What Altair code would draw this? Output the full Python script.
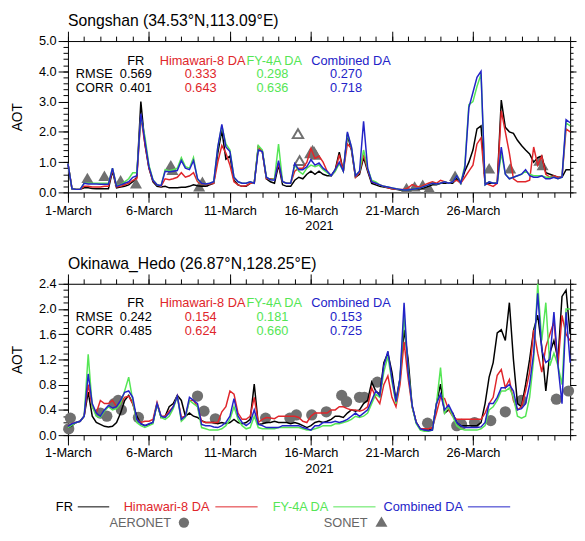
import json
import altair as alt
import pandas as pd

FONT = "Liberation Sans"
SERIES = ["FR", "Himawari-8 DA", "FY-4A DA", "Combined DA"]
COLORS = ["#000000", "#e0262b", "#55e655", "#2323c8"]
GRAY = "#707070"
STEP_DAYS = 0.25  # 6-hourly samples starting 1 March 00:00

TICK_DAYS = [0, 5, 10, 15, 20, 25]
TICK_LABELS = ["1-March", "6-March", "11-March", "16-March", "21-March", "26-March"]

# ---------------- Songshan ----------------
SONG_FR = [
    0.95, 0.12, 0.10, 0.10,  0.15, 0.15, 0.13, 0.12,  0.12, 0.12, 0.12, 0.70,
    0.15, 0.18, 0.20, 0.25,  0.35, 0.50, 3.00, 1.60,  0.80, 0.35, 0.20, 0.18,
    0.20, 0.15, 0.15, 0.15,  0.17, 0.17, 0.20, 0.25,  0.22, 0.20, 0.20, 0.25,
    0.30, 1.30, 2.05, 1.10,  1.20, 0.40, 0.25, 0.20,  0.20, 0.30, 0.30, 1.50,
    1.35, 0.45, 0.35, 0.30,  0.90, 0.25, 0.20, 0.20,  0.40, 0.50, 0.45, 0.60,
    0.70, 0.60, 0.70, 0.60,  0.55, 0.55, 0.75, 1.33,  0.70, 1.90, 1.40, 0.50,
    0.60, 1.15, 0.70, 0.30,  0.25, 0.20, 0.18, 0.15,  0.12, 0.10, 0.08, 0.08,
    0.08, 0.10, 0.12, 0.12,  0.15, 0.20, 0.25, 0.25,  0.30, 0.30, 0.30, 0.30,
    0.45, 0.30, 0.70, 1.00,  1.40, 2.10, 2.20, 0.30,  0.30, 0.30, 0.30, 3.05,
    2.15, 2.00, 1.95, 1.72,  1.55, 1.40, 1.27, 1.00,  1.15, 1.20, 0.65, 0.60,
    0.55, 0.50, 0.50, 0.75,  0.75,
]
SONG_H8 = [
    0.95, 0.12, 0.10, 0.10,  0.20, 0.20, 0.18, 0.18,  0.18, 0.20, 0.20, 0.75,
    0.18, 0.20, 0.25, 0.30,  0.40, 0.45, 2.50, 1.60,  0.80, 0.38, 0.25, 0.20,
    0.45, 0.42, 0.45, 0.50,  0.65, 0.50, 0.55, 0.65,  0.35, 0.28, 0.25, 0.28,
    0.30, 1.00, 1.55, 1.30,  0.90, 0.35, 0.25, 0.20,  0.22, 0.30, 0.30, 1.50,
    1.35, 0.45, 0.45, 0.45,  0.97, 0.35, 0.30, 0.30,  0.70, 0.80, 0.80, 1.00,
    1.45, 1.12, 1.20, 1.00,  0.70, 0.55, 0.70, 1.25,  0.70, 1.60, 1.45, 0.50,
    0.65, 1.25, 0.75, 0.35,  0.30, 0.25, 0.20, 0.15,  0.12, 0.10, 0.10, 0.10,
    0.15, 0.26, 0.20, 0.18,  0.25, 0.30, 0.35, 0.30,  0.40, 0.35, 0.30, 0.35,
    0.40, 0.30, 0.50, 0.70,  0.90, 1.60, 1.80, 0.30,  0.25, 0.20, 0.30, 2.70,
    2.00, 1.30, 0.45, 0.35,  0.35, 0.35, 0.40, 1.50,  0.90, 1.20, 0.60, 0.50,
    0.55, 0.50, 0.50, 2.10,  2.00,
]
SONG_FY = [
    0.95, 0.12, 0.10, 0.10,  0.30, 0.30, 0.30, 0.30,  0.30, 0.30, 0.30, 0.80,
    0.22, 0.25, 0.35, 0.45,  0.65, 0.65, 2.50, 1.85,  0.90, 0.42, 0.25, 0.22,
    0.75, 0.72, 0.75, 0.80,  1.15, 0.85, 0.80, 1.15,  0.42, 0.30, 0.28, 0.30,
    0.35, 1.50, 2.20, 1.60,  1.40, 0.50, 0.35, 0.30,  0.30, 0.35, 0.30, 1.55,
    1.40, 0.50, 0.42, 0.45,  1.60, 0.35, 0.30, 0.30,  0.90, 0.70, 0.60, 0.80,
    0.90, 0.85, 0.90, 0.75,  0.65, 0.55, 0.70, 0.95,  0.70, 1.95, 1.50, 0.55,
    0.70, 1.40, 0.80, 0.40,  0.35, 0.25, 0.20, 0.18,  0.15, 0.12, 0.10, 0.08,
    0.08, 0.10, 0.12, 0.15,  0.20, 0.25, 0.30, 0.28,  0.30, 0.35, 0.30, 0.35,
    0.55, 0.30, 0.90, 2.90,  3.00, 3.50, 3.90, 0.25,  0.35, 0.30, 0.30, 1.30,
    0.60, 0.45, 0.50, 0.55,  0.60, 0.70, 0.60, 0.55,  0.55, 0.55, 0.50, 0.50,
    0.50, 0.45, 0.50, 2.30,  2.20,
]
SONG_CB = [
    0.95, 0.12, 0.10, 0.10,  0.30, 0.28, 0.28, 0.28,  0.27, 0.27, 0.27, 0.80,
    0.20, 0.25, 0.30, 0.35,  0.50, 0.55, 2.60, 1.70,  0.85, 0.40, 0.25, 0.22,
    0.70, 0.68, 0.70, 0.72,  1.05, 0.80, 0.75, 1.05,  0.45, 0.30, 0.28, 0.30,
    0.35, 1.50, 2.25, 1.50,  1.35, 0.50, 0.35, 0.30,  0.30, 0.35, 0.30, 1.40,
    1.35, 0.50, 0.42, 0.40,  1.05, 0.35, 0.30, 0.30,  0.95, 0.75, 0.75, 0.85,
    1.08, 0.90, 0.97, 0.80,  0.70, 0.55, 0.75, 1.00,  0.70, 2.00, 1.50, 0.55,
    0.70, 2.35, 0.80, 0.35,  0.30, 0.25, 0.20, 0.18,  0.15, 0.12, 0.10, 0.08,
    0.08, 0.10, 0.12, 0.15,  0.20, 0.25, 0.30, 0.28,  0.30, 0.35, 0.30, 0.35,
    0.55, 0.30, 0.80, 2.80,  3.30, 3.80, 4.00, 0.25,  0.35, 0.30, 0.30, 1.50,
    0.60, 0.45, 0.50, 0.55,  0.60, 0.75, 0.55, 0.50,  0.50, 0.55, 0.45, 0.45,
    0.50, 0.45, 0.50, 2.40,  2.30,
]
SONET_T = [1.2, 2.25, 3.25, 4.2, 6.35, 6.45, 8.1, 8.3, 14.95, 15.1, 15.2, 15.3,
           20.9, 21.4, 21.9, 22.3, 23.9, 26.0, 27.3, 29.1, 29.3]
SONET_V = [0.48, 0.55, 0.40, 0.30, 0.90, 0.75, 0.20, 0.35, 1.30, 1.40, 1.35, 1.25,
           0.15, 0.20, 0.25, 0.15, 0.55, 0.80, 0.80, 1.05, 0.90]
SONET_OPEN_T = [14.2, 14.3]
SONET_OPEN_V = [1.94, 1.05]
SONG_RMSE = [0.569, 0.333, 0.298, 0.270]
SONG_CORR = [0.401, 0.643, 0.636, 0.718]

# ---------------- Okinawa_Hedo ----------------
OKI_FR = [
    0.12, 0.15, 0.20, 0.22,  0.30, 0.68, 0.30, 0.20,  0.17, 0.14, 0.13, 0.14,
    0.20, 0.35, 0.55, 0.63,  0.50, 0.30, 0.18, 0.15,  0.17, 0.20, 0.50, 0.28,
    0.30, 0.45, 0.50, 0.63,  0.55, 0.30, 0.35, 0.30,  0.28, 0.23, 0.20, 0.20,
    0.20, 0.18, 0.20, 0.18,  0.20, 0.25, 0.20, 0.18,  0.20, 0.25, 0.81, 0.17,
    0.18, 0.20, 0.20, 0.22,  0.20, 0.20, 0.20, 0.18,  0.20, 0.18, 0.15, 0.12,
    0.15, 0.20, 0.22, 0.20,  0.22, 0.25, 0.30, 0.30,  0.28, 0.35, 0.40, 0.38,
    0.40, 0.50, 0.55, 0.84,  0.70, 0.65, 1.15, 1.30,  1.00, 0.55, 0.90, 1.67,
    1.20, 0.45, 0.20, 0.10,  0.08, 0.08, 0.10, 0.50,  0.81, 0.35, 0.40, 0.35,
    0.20, 0.15, 0.15, 0.15,  0.15, 0.15, 0.20, 0.50,  0.92, 1.15, 1.62, 1.67,
    1.50, 2.10, 1.20, 0.50,  0.45, 0.80, 1.20, 1.67,  1.90, 1.40, 0.70, 1.30,
    1.50, 1.20, 2.20, 2.30,  1.60,
]
OKI_H8 = [
    0.14, 0.18, 0.20, 0.22,  0.30, 0.80, 0.45, 0.35,  0.55, 0.50, 0.50, 0.55,
    0.45, 0.50, 0.60, 0.62,  0.50, 0.25, 0.20, 0.22,  0.22, 0.25, 0.52, 0.30,
    0.30, 0.38, 0.45, 0.62,  0.28, 0.30, 0.55, 0.55,  0.45, 0.22, 0.20, 0.20,
    0.20, 0.20, 0.37, 0.45,  0.70, 0.65, 0.35, 0.25,  0.25, 0.30, 0.60, 0.20,
    0.25, 0.28, 0.27, 0.26,  0.30, 0.30, 0.30, 0.30,  0.30, 0.28, 0.22, 0.20,
    0.30, 0.35, 0.35, 0.35,  0.35, 0.40, 0.40, 0.45,  0.45, 0.42, 0.40, 0.40,
    0.38, 0.40, 0.45, 0.75,  0.60, 0.50, 0.80, 0.94,  0.60, 0.45, 0.80, 1.48,
    0.90, 0.45, 0.20, 0.10,  0.10, 0.10, 0.12, 0.35,  0.60, 0.58, 0.40, 0.30,
    0.25, 0.25, 0.25, 0.25,  0.25, 0.25, 0.25, 0.35,  0.50, 0.60, 0.95, 1.04,
    0.75, 0.88, 0.55, 0.40,  0.45, 0.70, 1.00, 1.67,  1.30, 1.00, 1.40, 1.60,
    1.80, 1.10, 1.90, 1.60,  1.50,
]
OKI_FY = [
    0.12, 0.16, 0.20, 0.22,  0.30, 1.28, 0.45, 0.30,  0.28, 0.38, 0.45, 0.40,
    0.42, 0.50, 0.70, 0.92,  0.55, 0.20, 0.15, 0.12,  0.15, 0.18, 0.50, 0.28,
    0.25, 0.30, 0.42, 0.62,  0.22, 0.28, 0.55, 0.50,  0.45, 0.12, 0.10, 0.08,
    0.08, 0.08, 0.10, 0.15,  0.25, 0.45, 0.25, 0.15,  0.10, 0.12, 0.30, 0.12,
    0.10, 0.10, 0.10, 0.10,  0.12, 0.12, 0.12, 0.12,  0.12, 0.12, 0.10, 0.08,
    0.08, 0.10, 0.12, 0.15,  0.15, 0.15, 0.18, 0.18,  0.20, 0.22, 0.25, 0.30,
    0.28, 0.30, 0.35, 0.50,  0.65, 0.60, 1.00, 1.25,  0.85, 0.50, 0.90, 1.90,
    1.05, 0.45, 0.18, 0.08,  0.06, 0.06, 0.08, 0.50,  1.07, 0.35, 0.45, 0.30,
    0.15, 0.10, 0.08, 0.08,  0.08, 0.08, 0.10, 0.15,  0.40, 0.45, 0.55, 0.70,
    0.70, 0.75, 0.60, 0.30,  0.27, 0.30, 0.60, 1.20,  2.40, 1.50, 2.10, 1.10,
    1.30, 1.10, 0.80, 2.00,  2.00,
]
OKI_CB = [
    0.14, 0.18, 0.20, 0.22,  0.30, 0.97, 0.50, 0.35,  0.30, 0.40, 0.47, 0.43,
    0.45, 0.55, 0.68, 0.70,  0.60, 0.25, 0.18, 0.15,  0.18, 0.20, 0.50, 0.30,
    0.28, 0.35, 0.45, 0.62,  0.25, 0.30, 0.60, 0.55,  0.50, 0.17, 0.15, 0.15,
    0.13, 0.12, 0.15, 0.20,  0.30, 0.58, 0.30, 0.20,  0.15, 0.20, 0.40, 0.17,
    0.15, 0.12, 0.12, 0.12,  0.12, 0.15, 0.15, 0.15,  0.15, 0.15, 0.12, 0.10,
    0.08, 0.15, 0.15, 0.20,  0.20, 0.20, 0.22, 0.20,  0.22, 0.25, 0.30, 0.35,
    0.30, 0.35, 0.40, 0.55,  0.70, 0.62, 1.10, 1.33,  0.90, 0.53, 0.90, 2.10,
    1.00, 0.47, 0.20, 0.10,  0.08, 0.07, 0.08, 0.50,  0.65, 0.40, 0.48, 0.35,
    0.20, 0.15, 0.12, 0.12,  0.12, 0.12, 0.13, 0.20,  0.50, 0.50, 0.60, 0.75,
    0.75, 0.80, 0.70, 0.40,  0.42, 0.50, 0.80, 1.30,  2.25, 1.35, 1.15, 1.20,
    1.95, 1.10, 0.50, 1.95,  1.15,
]
AERONET_T = [0.05, 0.15, 2.0, 2.4, 2.85, 3.1, 3.3, 4.35, 8.0, 8.4, 9.1, 12.2, 13.7,
             14.1, 15.05, 15.95, 16.9, 17.2, 18.0, 18.3, 19.1, 22.2, 24.0, 24.3,
             25.1, 26.1, 27.0, 28.0, 30.15, 30.9]
AERONET_V = [0.10, 0.27, 0.35, 0.30, 0.50, 0.55, 0.40, 0.28, 0.62, 0.38, 0.26, 0.27,
             0.27, 0.32, 0.32, 0.37, 0.63, 0.53, 0.60, 0.60, 0.84, 0.19, 0.15, 0.17,
             0.20, 0.23, 0.37, 0.55, 0.57, 0.70]
OKI_RMSE = [0.242, 0.154, 0.181, 0.153]
OKI_CORR = [0.485, 0.624, 0.660, 0.725]

for s in (SONG_FR, SONG_H8, SONG_FY, SONG_CB, OKI_FR, OKI_H8, OKI_FY, OKI_CB):
    assert len(s) == 125, len(s)

W, H = 511, 154
XS = alt.Scale(domain=[0, 31], nice=False, zero=False)
X_LABEL_EXPR = f"{json.dumps(TICK_LABELS)}[indexof({json.dumps(TICK_DAYS)}, datum.value)]"
DAYS_ALL = list(range(0, 32))
AX = dict(grid=False, domainColor="black", tickColor="black", labelColor="black",
          titleColor="black", labelFont=FONT, titleFont=FONT, domainWidth=1, tickWidth=1)


def line_df(vals):
    return pd.DataFrame({"t": [i * STEP_DAYS for i in range(len(vals))], "v": vals})


def pts_df(ts, vs):
    return pd.DataFrame({"t": ts, "v": vs})


def txt(s, x, y, color="black", align="center", size=13):
    return alt.Chart(pd.DataFrame({"s": [s]})).mark_text(
        align=align, baseline="middle", font=FONT, fontSize=size, color=color
    ).encode(x=alt.value(x), y=alt.value(y), text="s:N")


def axis_layer(df, ys, xaxis, yaxis):
    return alt.Chart(df).mark_line(opacity=0).encode(
        x=alt.X("t:Q", scale=XS, axis=xaxis),
        y=alt.Y("v:Q", scale=ys, axis=yaxis),
    )


def panel(title, series, ymax, ymajor, yminor, markers, rmse, corr, extra):
    ys = alt.Scale(domain=[0, ymax], nice=False, zero=False)
    df0 = line_df(series[0])
    main = axis_layer(
        df0, ys,
        alt.Axis(orient="bottom", values=TICK_DAYS, labelExpr=X_LABEL_EXPR, title="2021",
                 tickSize=10, labelFontSize=13, titleFontSize=13, titleFontWeight="normal",
                 labelPadding=2, titlePadding=3, labelFlush=False, **AX),
        alt.Axis(orient="left", values=ymajor, format=".1f", title="AOT", tickSize=10,
                 labelFontSize=13, titleFontSize=14, titleFontWeight="normal",
                 labelPadding=2, titlePadding=14, **AX),
    )
    minor_bl = axis_layer(
        df0, ys,
        alt.Axis(orient="bottom", values=DAYS_ALL, labels=False, tickSize=5, domain=False,
                 title=None, **AX),
        alt.Axis(orient="left", values=yminor, labels=False, tickSize=5, domain=False,
                 title=None, **AX),
    )
    major_tr = axis_layer(
        df0, ys,
        alt.Axis(orient="top", values=TICK_DAYS, labels=False, tickSize=10, title=None, **AX),
        alt.Axis(orient="right", values=ymajor, labels=False, tickSize=6, title=None, **AX),
    )
    minor_tr = axis_layer(
        df0, ys,
        alt.Axis(orient="top", values=DAYS_ALL, labels=False, tickSize=5, domain=False,
                 title=None, **AX),
        alt.Axis(orient="right", values=yminor, labels=False, tickSize=3, domain=False,
                 title=None, **AX),
    )
    layers = [main, minor_bl, major_tr, minor_tr]
    for df, shape, filled, size in markers:
        mk = alt.Chart(df).mark_point(
            shape=shape, filled=filled, size=size, color=GRAY, opacity=1,
            strokeWidth=2 if not filled else 0.5,
        ).encode(x=alt.X("t:Q", scale=XS, axis=None), y=alt.Y("v:Q", scale=ys, axis=None))
        layers.append(mk)
    for vals, col in zip(series, COLORS):
        layers.append(
            alt.Chart(line_df(vals)).mark_line(color=col, strokeWidth=1.5).encode(
                x=alt.X("t:Q", scale=XS, axis=None), y=alt.Y("v:Q", scale=ys, axis=None))
        )
    # statistics table
    hdr_x = [69, 137, 210, 288]
    val_x = [69, 135, 208, 283]
    names = ["FR", "Himawari-8 DA", "FY-4A DA", "Combined DA"]
    for i in range(4):
        layers.append(txt(names[i], hdr_x[i], 20, COLORS[i]))
        layers.append(txt(f"{rmse[i]:.3f}", val_x[i], 34, COLORS[i]))
        layers.append(txt(f"{corr[i]:.3f}", val_x[i], 48, COLORS[i]))
    layers.append(txt("RMSE", 8, 34, "black", align="left"))
    layers.append(txt("CORR", 8, 48, "black", align="left"))
    layers.extend(extra)
    return alt.layer(*layers).resolve_axis(x="independent", y="independent").properties(
        width=W, height=H,
        title=alt.TitleParams(title, anchor="start", frame="group", fontSize=16,
                              fontWeight="normal", font=FONT, color="black", offset=2),
    )


# legend items placed under the lower panel
LEG_Y1, LEG_Y2 = 227, 243
legend = []
leg_text_right = [5, 144, 265, 402]
leg_line = [(10, 42), (150, 193), (270, 313), (407, 450)]
for i, name in enumerate(SERIES):
    legend.append(txt(name, leg_text_right[i], LEG_Y1, COLORS[i], align="right"))
    legend.append(
        alt.Chart(pd.DataFrame({"a": [0]})).mark_rule(color=COLORS[i], strokeWidth=1).encode(
            x=alt.value(leg_line[i][0]), x2=alt.value(leg_line[i][1]), y=alt.value(LEG_Y1))
    )
legend.append(txt("AERONET", 105, LEG_Y2, "#666666", align="right"))
legend.append(txt("SONET", 305, LEG_Y2, "#666666", align="right"))
legend.append(
    alt.Chart(pd.DataFrame({"a": [0]})).mark_point(shape="circle", filled=True, size=110,
                                                   color=GRAY, opacity=1).encode(
        x=alt.value(118), y=alt.value(LEG_Y2))
)
legend.append(
    alt.Chart(pd.DataFrame({"a": [0]})).mark_point(shape="triangle-up", filled=True, size=150,
                                                   color=GRAY, opacity=1).encode(
        x=alt.value(319), y=alt.value(LEG_Y2 - 1))
)

top = panel(
    "Songshan (34.53°N,113.09°E)",
    [SONG_FR, SONG_H8, SONG_FY, SONG_CB],
    5.0, [0, 1, 2, 3, 4, 5], [round(0.2 * k, 1) for k in range(26)],
    [(pts_df(SONET_T, SONET_V), "triangle-up", True, 150),
     (pts_df(SONET_OPEN_T, SONET_OPEN_V), "triangle-up", False, 110)],
    SONG_RMSE, SONG_CORR, [],
)
bottom = panel(
    "Okinawa_Hedo (26.87°N,128.25°E)",
    [OKI_FR, OKI_H8, OKI_FY, OKI_CB],
    2.4, [0, 0.4, 0.8, 1.2, 1.6, 2.0, 2.4], [round(0.1 * k, 1) for k in range(25)],
    [(pts_df(AERONET_T, AERONET_V), "circle", True, 130)],
    OKI_RMSE, OKI_CORR, legend,
)

chart = alt.vconcat(top, bottom, spacing=22).properties(
    padding={"left": 2, "top": 0, "right": 0, "bottom": 0}
).configure_view(stroke=None).configure(background="white")

chart.save("out.html", embed_options={"renderer": "svg", "actions": False})
